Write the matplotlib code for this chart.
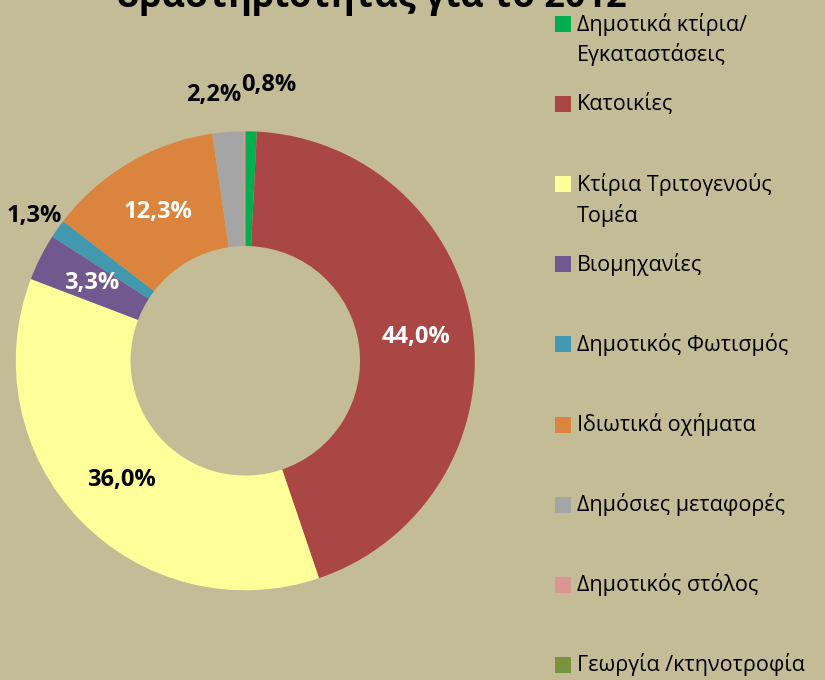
import matplotlib
matplotlib.use("Agg")
import matplotlib.pyplot as plt
import matplotlib.patches as patches
import numpy as np

# data
categories = ["Δημοτικά κτίρια/\nΕγκαταστάσεις", "Κατοικίες", "Κτίρια Τριτογενούς\nΤομέα",
              "Βιομηχανίες", "Δημοτικός Φωτισμός", "Ιδιωτικά οχήματα",
              "Δημόσιες μεταφορές", "Δημοτικός στόλος", "Γεωργία /κτηνοτροφία"]
shares = [0.8, 44.0, 36.0, 3.3, 1.3, 12.3, 2.2, 0.1, 0.0]
labels = ["0,8%", "44,0%", "36,0%", "3,3%", "1,3%", "12,3%", "2,2%", "", ""]
title = "δραστηριότητας για το 2012"

colors = ["#00B050", "#AA4643", "#FFFF99", "#71588F", "#4198AF",
          "#DB843D", "#A5A5A5", "#D99694", "#77933C"]
label_colors = ["black", "white", "black", "white", "black", "white", "black", "black", "black"]
label_dist = [1.2, 0.75, 0.75, 0.75, 1.1, 0.75, 1.16, 0, 0]
label_shift = [0.07, 0, 0, 0, -0.02, 0, -0.05, 0, 0]
bg = "#C4BC97"

W, H = 825, 680
fig = plt.figure(figsize=(W / 100, H / 100), dpi=100, facecolor=bg)

# donut
ax = fig.add_axes([(245.3 - 229.5) / W, (H - 590.3) / H, 459 / W, 459 / H])
ax.set_facecolor(bg)
wedges, _ = ax.pie(shares, colors=colors, startangle=90, counterclock=False,
                   radius=1.0, wedgeprops=dict(width=0.5, linewidth=0))
ax.set_xlim(-1, 1)
ax.set_ylim(-1, 1)
ax.set_aspect("auto")
ax.axis("off")

for w, lab, c, d, s in zip(wedges, labels, label_colors, label_dist, label_shift):
    if not lab:
        continue
    ang = np.deg2rad((w.theta1 + w.theta2) / 2)
    ax.text(d * np.cos(ang) + s, d * np.sin(ang), lab, color=c, ha="center", va="center",
            fontsize=17, fontweight="bold", family="Open Sans")

# overlay in pixel coords for title and legend
ov = fig.add_axes([0, 0, 1, 1], facecolor="none")
ov.set_xlim(0, W)
ov.set_ylim(H, 0)
ov.axis("off")

ov.text(372, 7, title, ha="center", va="baseline", fontsize=26, fontweight="bold",
        family="Open Sans", color="black")

for i, (cat, c) in enumerate(zip(categories, colors)):
    yc = 24 + 80.1 * i
    ov.add_patch(patches.Rectangle((555, yc - 8), 16, 16, facecolor=c, edgecolor="none"))
    for j, line in enumerate(cat.split("\n")):
        ov.text(577, yc + 31 * j, line, ha="left", va="center", fontsize=15.5,
                family="Open Sans", color="black")

fig.savefig("out.png", dpi=100, facecolor=bg)
